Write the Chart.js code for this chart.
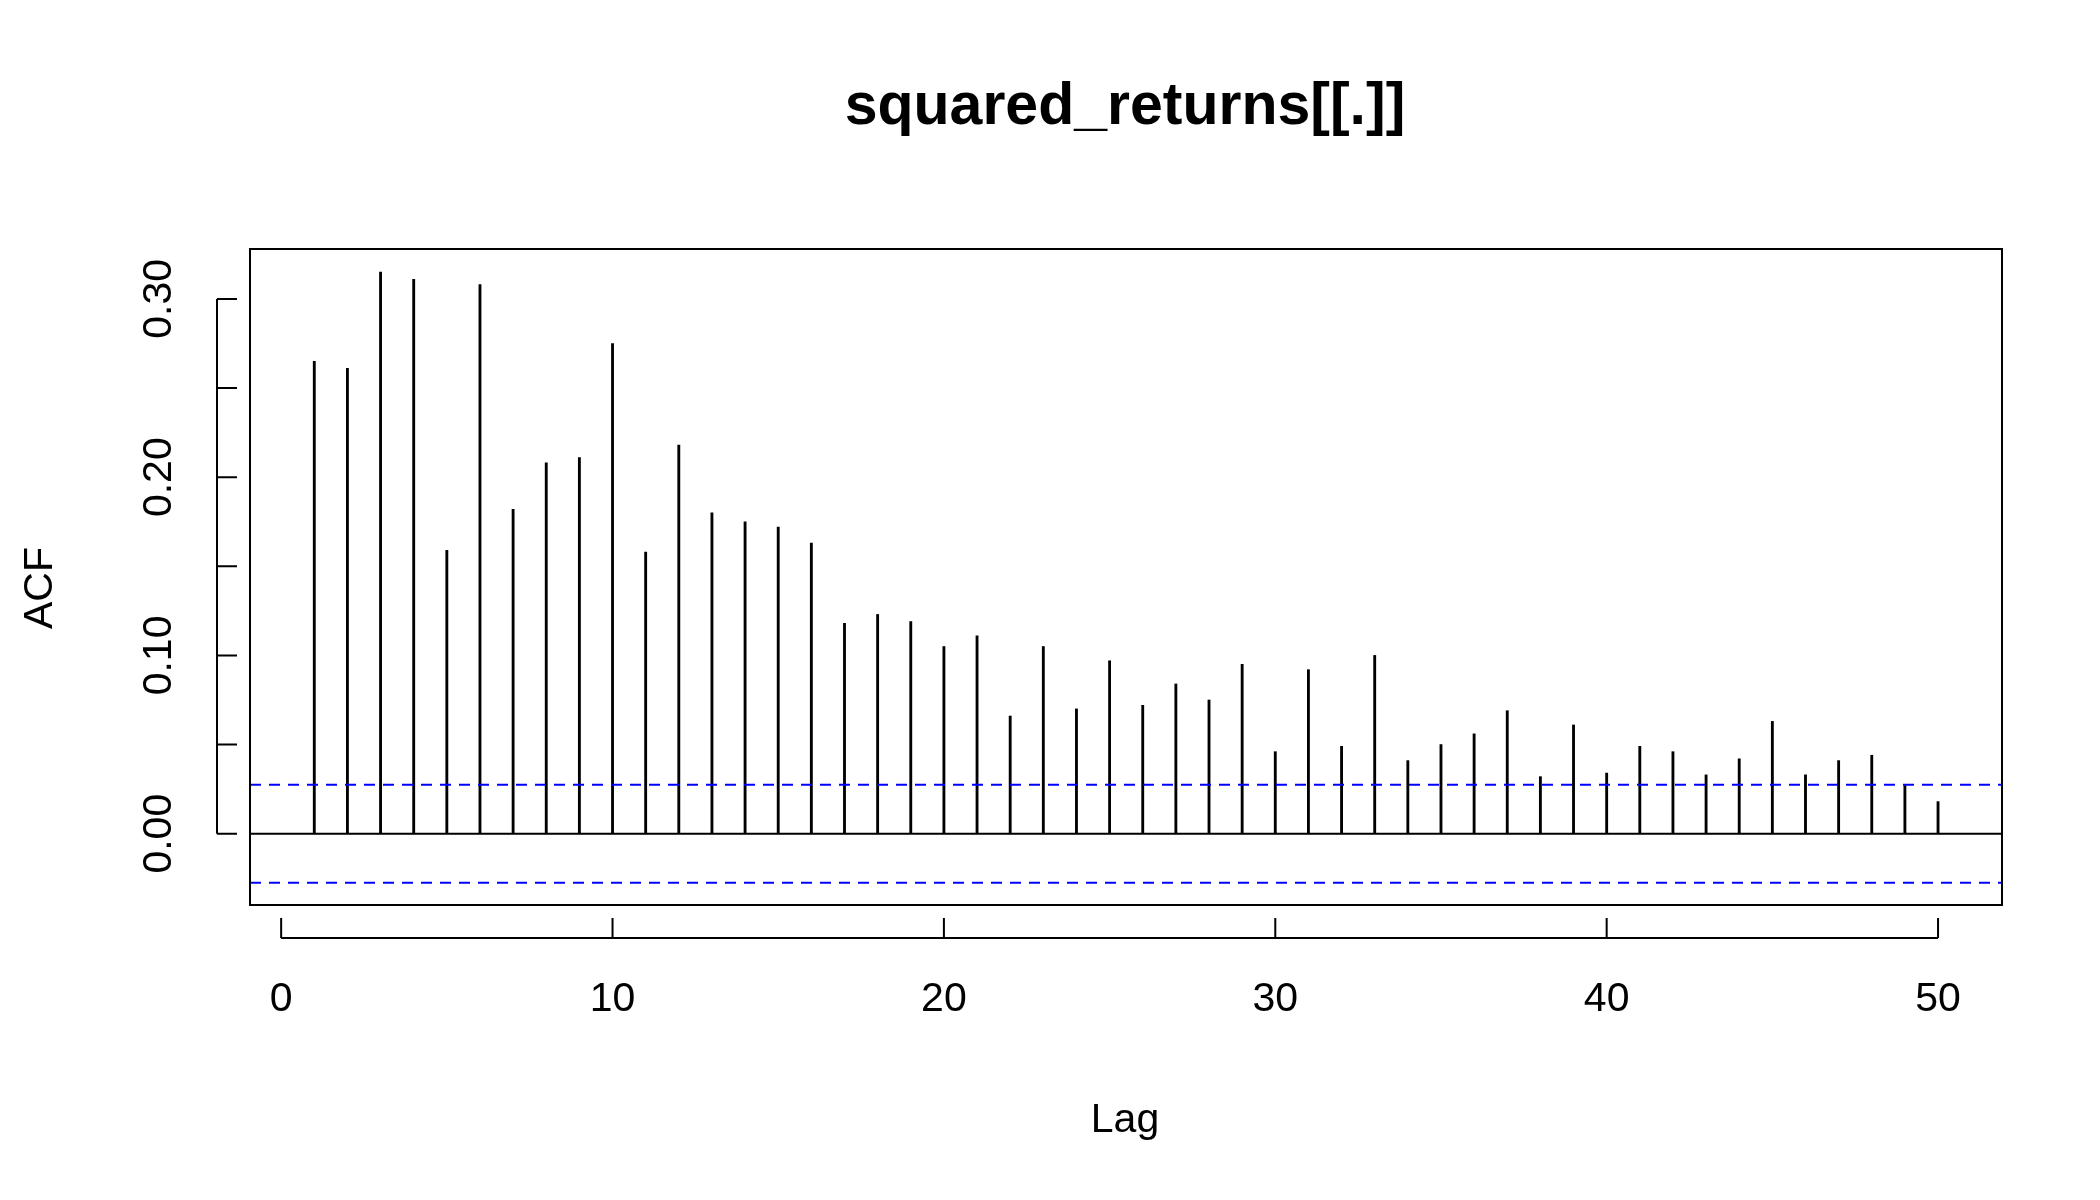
<!DOCTYPE html>
<html><head><meta charset="utf-8">
<script src="https://cdn.jsdelivr.net/npm/chart.js@4"></script>
<style>html,body{margin:0;padding:0;background:#fff}#c{display:block}</style>
</head><body>
<div style="width:2100px;height:1200px"><canvas id="c" width="2100" height="1200"></canvas></div>
<script>
const lags=[];for(let i=1;i<=50;i++)lags.push(i);
const acf=[0.265,0.261,0.315,0.311,0.159,0.308,0.182,0.208,0.211,0.275,0.158,0.218,0.180,0.175,0.172,0.163,0.118,0.123,0.119,0.105,0.111,0.066,0.105,0.070,0.097,0.072,0.084,0.075,0.095,0.046,0.092,0.049,0.100,0.041,0.050,0.056,0.069,0.032,0.061,0.034,0.049,0.046,0.033,0.042,0.063,0.033,0.041,0.044,0.027,0.018];
const ci=0.0275;
const xTicks=[0,10,20,30,40,50];
const yTicks=[0,0.1,0.2,0.3];
const yTickLabels=["0.00","0.10","0.20","0.30"];
const yMinorTicks=[0.05,0.15,0.25];
const xMin=-0.94,xMax=51.93,yMin=-0.040,yMax=0.328;
const FONT='"Liberation Sans", Arial, Helvetica, sans-serif';
const deco={id:'deco',afterDraw(ch){
 const c=ch.ctx,a=ch.chartArea,xs=ch.scales.x,ys=ch.scales.y;
 c.save();c.strokeStyle='#000';c.fillStyle='#000';c.lineWidth=2;
 c.strokeRect(a.left,a.top,a.right-a.left,a.bottom-a.top);
 const ay=a.bottom+33;
 c.beginPath();c.moveTo(xs.getPixelForValue(0),ay);c.lineTo(xs.getPixelForValue(50),ay);
 xTicks.forEach(t=>{const p=xs.getPixelForValue(t);c.moveTo(p,ay);c.lineTo(p,ay-20);});
 c.stroke();
 c.font='41px '+FONT;c.textAlign='center';c.textBaseline='middle';
 xTicks.forEach(t=>c.fillText(String(t),xs.getPixelForValue(t),1000));
 const ax=a.left-33;
 c.beginPath();c.moveTo(ax,ys.getPixelForValue(0));c.lineTo(ax,ys.getPixelForValue(0.3));
 yTicks.concat(yMinorTicks).forEach(t=>{const p=ys.getPixelForValue(t);c.moveTo(ax,p);c.lineTo(ax+20,p);});
 c.stroke();
 yTicks.forEach((t,i)=>{const p=ys.getPixelForValue(t);c.save();c.translate(160,p);c.rotate(-Math.PI/2);c.fillText(yTickLabels[i],0,0);c.restore();});
 c.fillText('Lag',1125,1121);
 c.save();c.translate(41,588);c.rotate(-Math.PI/2);c.fillText('ACF',0,0);c.restore();
 c.font='bold 59px '+FONT;c.fillText('squared_returns[[.]]',1125,108);
 c.restore();
}};
new Chart(document.getElementById('c'),{
 data:{datasets:[
  {type:'bar',data:lags.map((l,i)=>({x:l,y:acf[i]})),backgroundColor:'#000',barThickness:2.2,order:2},
  {type:'line',data:[{x:xMin,y:0},{x:xMax,y:0}],borderColor:'#000',borderWidth:2,pointRadius:0,order:1},
  {type:'line',data:[{x:xMin,y:ci},{x:xMax,y:ci}],borderColor:'#0000ff',borderWidth:2,borderDash:[11,8],pointRadius:0,order:1},
  {type:'line',data:[{x:xMin,y:-ci},{x:xMax,y:-ci}],borderColor:'#0000ff',borderWidth:2,borderDash:[11,8],pointRadius:0,order:1}
 ]},
 options:{responsive:false,animation:false,
  layout:{padding:{left:250,right:98,top:249,bottom:295}},
  plugins:{legend:{display:false},tooltip:{enabled:false}},
  scales:{x:{type:'linear',min:xMin,max:xMax,display:false,offset:false},
          y:{type:'linear',min:yMin,max:yMax,display:false}}},
 plugins:[deco]
});
</script></body></html>
